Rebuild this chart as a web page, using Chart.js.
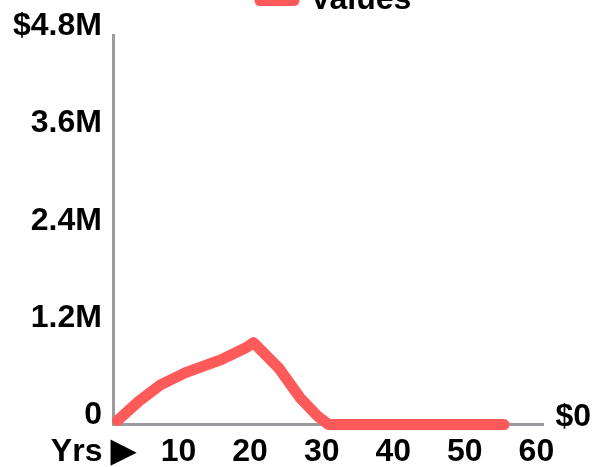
<!DOCTYPE html>
<html>
<head>
<meta charset="utf-8">
<script src="https://cdn.jsdelivr.net/npm/chart.js@4.4.1/dist/chart.umd.min.js"></script>
<style>
  html, body { margin: 0; padding: 0; background: #fff; overflow: hidden; }
  #wrap { position: absolute; left: 0; top: -26px; width: 603px; height: 505px; }
</style>
</head>
<body>
<div id="wrap"><canvas id="chart"></canvas></div>
<script>
// years on the x axis and portfolio value in millions
const years = [0.5, 3.5, 6.5, 10, 15, 18.5, 19.5, 23, 26, 28.5, 30, 54.5];
const values = [0.05, 0.29, 0.49, 0.64, 0.80, 0.95, 1.01, 0.70, 0.33, 0.10, 0, 0];
const yTicks = ['0', '1.2M', '2.4M', '3.6M', '$4.8M'];
const xTicks = ['Yrs \u25B6\u00a0\u00a0\u00a0', '10', '20', '30', '40', '50', '60'];

const red = '#ff5a5a';
const axisGray = '#9b9b9f';
const font = { family: 'Liberation Sans, Arial, sans-serif', size: 32, weight: 'bold' };

// extra room under the legend, and nudge it right a bit
const legendGap = {
    id: 'legendGap',
    beforeInit(chart) {
        const fit = chart.legend.fit;
        chart.legend.fit = function() {
            fit.bind(chart.legend)();
            this.height += 9;
        };
    },
    afterLayout(chart) {
        chart.legend.left += 7;
        chart.legend.right += 7;
    }
};

document.addEventListener('DOMContentLoaded', function() {
    const ctx = document.getElementById('chart').getContext('2d');
    new Chart(ctx, {
        type: 'line',
        data: {
            datasets: [{
                label: 'Values',
                data: years.map((y, i) => ({ x: y, y: values[i] * 1e6 })),
                borderColor: red,
                backgroundColor: red,
                borderWidth: 11,
                borderCapStyle: 'round',
                borderJoinStyle: 'round',
                pointRadius: 0,
                tension: 0,
                clip: false
            }]
        },
        options: {
            responsive: true,
            maintainAspectRatio: false,
            animation: false,
            layout: { autoPadding: false, padding: { left: 1, right: 0, top: 0, bottom: 0 } },
            plugins: {
                legend: {
                    position: 'top',
                    fullSize: false,
                    labels: {
                        color: '#000',
                        font: font,
                        boxWidth: 34,
                        boxHeight: 1,
                        padding: 10
                    }
                },
                tooltip: { enabled: false }
            },
            scales: {
                x: {
                    type: 'linear',
                    min: 0,
                    max: 60,
                    grid: { display: false, drawTicks: false },
                    border: { display: true, color: axisGray, width: 3 },
                    ticks: {
                        stepSize: 10,
                        autoSkip: false,
                        maxRotation: 0,
                        padding: 8,
                        labelOffset: -7,
                        color: '#000',
                        font: font,
                        callback: (v) => xTicks[Math.round(v / 10)]
                    }
                },
                y: {
                    position: 'left',
                    min: 0,
                    max: 4.8e6,
                    grid: { display: false, drawTicks: false },
                    border: { display: true, color: axisGray, width: 3 },
                    ticks: {
                        stepSize: 1.2e6,
                        padding: 12,
                        labelOffset: -9,
                        color: '#000',
                        font: font,
                        callback: (v) => yTicks[Math.round(v / 1.2e6)]
                    }
                },
                y2: {
                    position: 'right',
                    min: 0,
                    max: 4.8e6,
                    grid: { display: false, drawTicks: false },
                    border: { display: false },
                    ticks: {
                        stepSize: 1.2e6,
                        padding: 12,
                        labelOffset: -7,
                        color: '#000',
                        font: font,
                        callback: (v) => v === 0 ? '$0' : ''
                    }
                }
            }
        },
        plugins: [legendGap]
    });
});
</script>
</body>
</html>
